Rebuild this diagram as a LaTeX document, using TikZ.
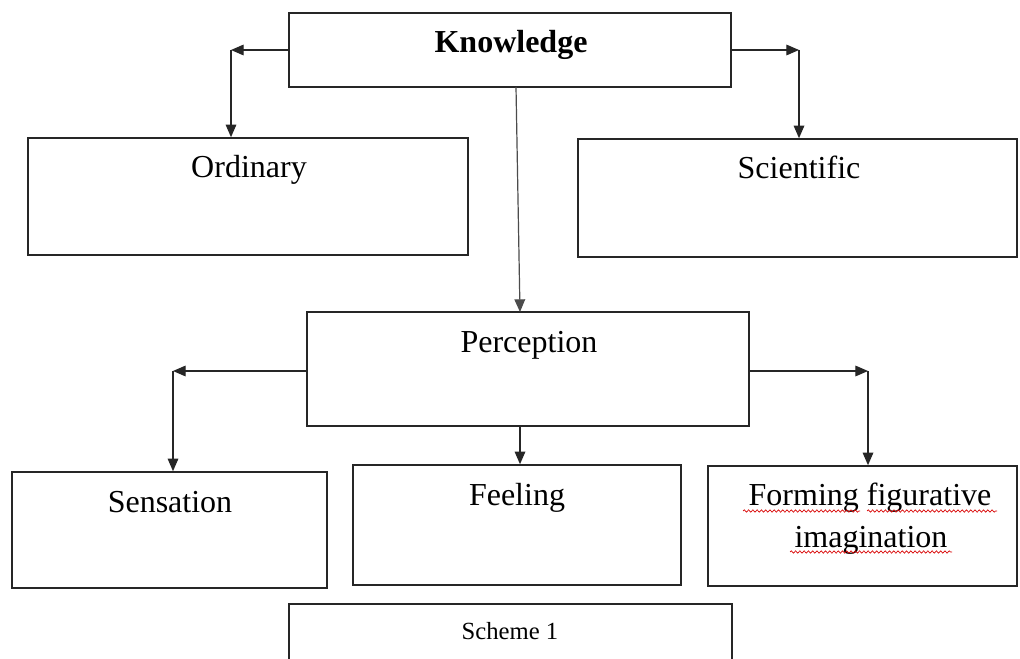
\documentclass[tikz,border=0pt]{standalone}
\usepackage{fontspec}
\setmainfont{Liberation Serif}
\usetikzlibrary{arrows.meta,decorations.pathmorphing}
\begin{document}
\begin{tikzpicture}[x=0.75pt,y=-0.75pt,
  box/.style 2 args={draw=black!85,line width=1.2pt,rectangle,inner sep=0pt,
     minimum width=#1*0.75pt,minimum height=#2*0.75pt},
  lbl/.style={anchor=base,inner sep=0pt,font=\fontsize{24}{28}\selectfont},
  tip/.style={-{Triangle[length=9.5pt,width=8pt]}},
  arr/.style={draw=black!85,line width=0.9pt,tip},
  ln/.style={draw=black!70,line width=0.9pt,tip},
  squig/.style={draw=red!85!black,line width=0.5pt,decorate,
     decoration={snake,segment length=3.2pt,amplitude=0.9pt}}]
\useasboundingbox (0,0) rectangle (1020,659);
\clip (0,0) rectangle (1020,659);
\fill[white] (0,0) rectangle (1020,659);
% boxes
\node[box={442}{74}]  (K)   at (510,50) {};
\node[box={440}{117}] (O)   at (248,196.5) {};
\node[box={439}{118}] (S)   at (797.5,198) {};
\node[box={442}{114}] (P)   at (528,369) {};
\node[box={315}{116}] (Sen) at (169.5,530) {};
\node[box={328}{120}] (F)   at (517,525) {};
\node[box={309}{120}] (FF)  at (862.5,526) {};
\node[box={443}{110}] (Sch) at (510.5,659) {};
% labels
\node[lbl,font=\fontsize{24}{28}\selectfont\bfseries] (Kt) at (511,53) {Knowledge};
\node[lbl] (Ot)  at (249,178) {Ordinary};
\node[lbl] (St)  at (799,179) {Scientific};
\node[lbl] (Pt)  at (529,352) {Perception};
\node[lbl] (Sent) at (170,512) {Sensation};
\node[lbl] (Ft)  at (517,505) {Feeling};
\node[lbl] (FF1) at (870,505) {Forming figurative};
\node[lbl] (FF2) at (871,547) {imagination};
\node[lbl,font=\fontsize{18.5}{22}\selectfont] (Scht) at (510,639) {Scheme 1};
% spell-check squiggles
\draw[squig] (743,511) -- (860,511);
\draw[squig] (867,511) -- (997,511);
\draw[squig] (790,552) -- (952,552);
% connectors
\coordinate (kl) at (231,50);
\coordinate (kr) at (799,50);
\coordinate (pl) at (173,371);
\coordinate (pr) at (868,371);
\coordinate (kb) at (516,87);
\coordinate (pt) at (520,312);
\draw[arr] (K.west |- kl) -- (kl);
\draw[arr] (kl) -- (kl |- O.north);
\draw[arr] (K.east |- kr) -- (kr);
\draw[arr] (kr) -- (kr |- S.north);
\draw[ln] (kb) -- (pt);
\draw[arr] (P.west |- pl) -- (pl);
\draw[arr] (pl) -- (pl |- Sen.north);
\draw[arr] (P.east |- pr) -- (pr);
\draw[arr] (pr) -- (pr |- FF.north);
\draw[arr] (P.south -| 520,0) -- (520,0 |- F.north);
\end{tikzpicture}
\end{document}
